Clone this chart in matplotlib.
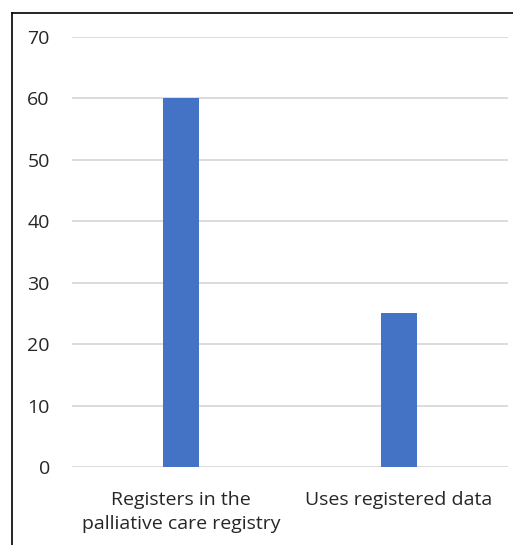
import matplotlib
matplotlib.use("Agg")
import matplotlib.pyplot as plt
from matplotlib.lines import Line2D

categories = ["Registers in the\npalliative care registry", "Uses registered data"]
values = [60, 25]
yticks = [0, 10, 20, 30, 40, 50, 60, 70]

plt.rcParams['font.family'] = ['Open Sans', 'DejaVu Sans']

W, H = 513, 545
fig = plt.figure(figsize=(W/100, H/100), dpi=100)
ax = fig.add_axes([72/W, 78/H, 436/W, 430/H])

x = list(range(len(categories)))
ax.bar(x, values, width=0.165, color="#4472C4", zorder=3)
ax.set_xlim(-0.5, len(categories) - 0.5)
ax.set_ylim(0, 70)
ax.set_yticks(yticks)
ax.set_yticklabels([str(v) for v in yticks], fontsize=14, color="#262626")
ax.set_xticks(x)
ax.set_xticklabels(categories, fontsize=14, color="#262626", linespacing=1.45)
ax.tick_params(axis='both', length=0)
ax.tick_params(axis='y', pad=16)
ax.tick_params(axis='x', pad=17)
ax.grid(axis='y', color="#D9D9D9", linewidth=1.3, zorder=0)
for s in ax.spines.values():
    s.set_visible(False)

# outer frame (left and top edges)
fig.add_artist(Line2D([12/W, 12/W], [0, 1 - 13/H], transform=fig.transFigure, color="#000000", linewidth=1.2))
fig.add_artist(Line2D([12/W, 1], [1 - 13/H, 1 - 13/H], transform=fig.transFigure, color="#000000", linewidth=1.2))

fig.savefig("out.png", dpi=100)
